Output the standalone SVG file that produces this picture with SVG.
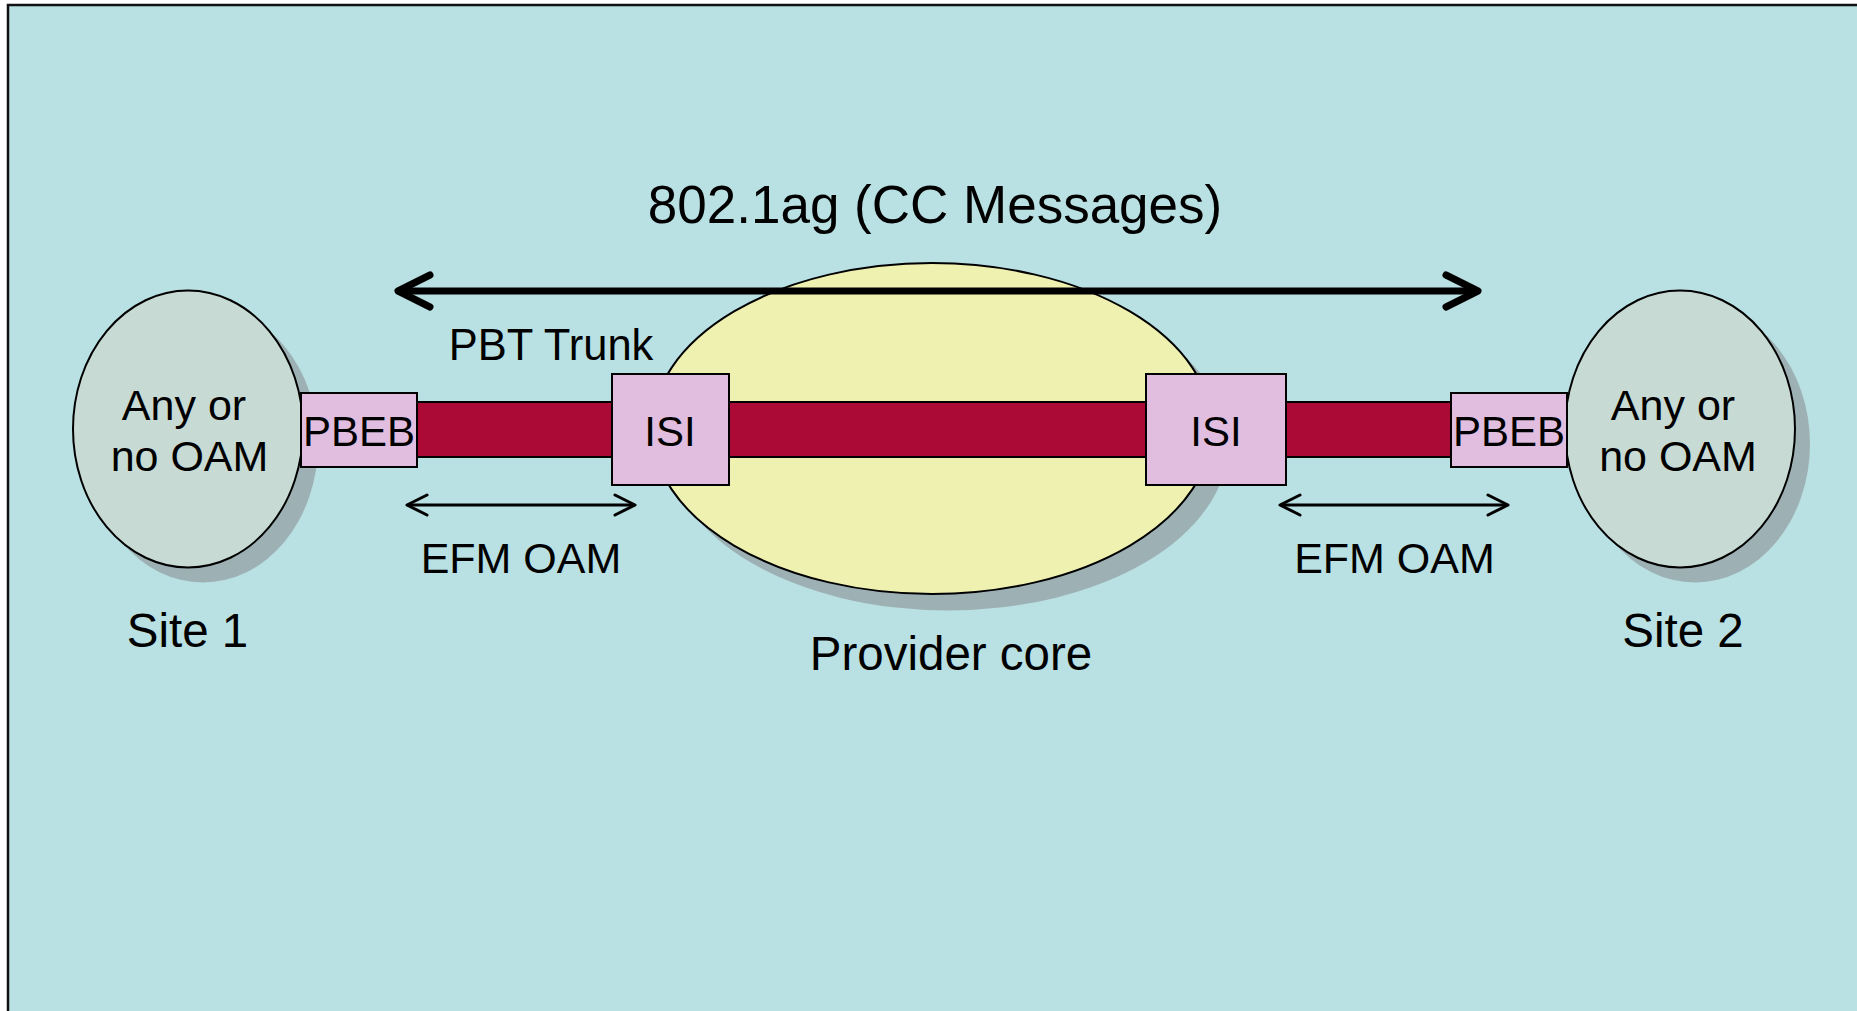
<svg xmlns="http://www.w3.org/2000/svg" width="1857" height="1011" viewBox="0 0 1857 1011">
  <style>
    .lbl { font-family: "Liberation Sans", Arial, sans-serif; fill: #000; text-anchor: middle; }
    .box { fill: #e1bddf; stroke: #000; stroke-width: 2; }
    .site { fill: #c7dad4; stroke: #000; stroke-width: 2; }
    .core { fill: #eff1b0; stroke: #000; stroke-width: 2; }
    .shadow { fill: #9db1b4; }
    .trunk { fill: #ab0a36; stroke: #000; stroke-width: 2; }
    .cc { fill: none; stroke: #000; stroke-width: 7; stroke-linecap: round; stroke-linejoin: round; }
    .efm { fill: none; stroke: #000; stroke-width: 3; stroke-linecap: round; stroke-linejoin: round; }
  </style>

  <!-- page and frame -->
  <rect x="0" y="0" width="1857" height="1011" fill="#ffffff"/>
  <rect x="8" y="5" width="1880" height="1030" fill="#b9e0e3" stroke="#111" stroke-width="2.5"/>

  <!-- provider core -->
  <g id="provider-core">
    <ellipse class="shadow" cx="948" cy="445" rx="280" ry="165.5"/>
    <ellipse class="core" cx="932" cy="428.5" rx="280" ry="165.5"/>
    <text class="lbl" x="951" y="670" font-size="47.5">Provider core</text>
  </g>

  <!-- site 1 -->
  <g id="site-1">
    <ellipse class="shadow" cx="203" cy="444" rx="115" ry="138.5"/>
    <ellipse class="site" cx="188" cy="429" rx="115" ry="138.5"/>
    <text class="lbl" x="184" y="420" font-size="43">Any or</text>
    <text class="lbl" x="189.5" y="470.5" font-size="43">no OAM</text>
    <text class="lbl" x="187.5" y="646.5" font-size="47.5">Site 1</text>
  </g>

  <!-- site 2 -->
  <g id="site-2">
    <ellipse class="shadow" cx="1695" cy="444" rx="115" ry="138.5"/>
    <ellipse class="site" cx="1680" cy="429" rx="115" ry="138.5"/>
    <text class="lbl" x="1673" y="420" font-size="43">Any or</text>
    <text class="lbl" x="1678" y="470.5" font-size="43">no OAM</text>
    <text class="lbl" x="1683" y="646.5" font-size="47.5">Site 2</text>
  </g>

  <!-- connectors -->
  <g id="connectors">
    <!-- PBT trunk between the two PBEBs -->
    <rect class="trunk" x="417" y="402" width="1034" height="55"/>
    <!-- 802.1ag CC span -->
    <line class="cc" x1="399" y1="291" x2="1476" y2="291"/>
    <path class="cc" d="M430,275 L398,291 L430,307"/>
    <path class="cc" d="M1446,275 L1478,291 L1446,307"/>
    <!-- EFM OAM spans -->
    <line class="efm" x1="408" y1="505" x2="634" y2="505"/>
    <path class="efm" d="M427,495 L407,505 L427,515"/>
    <path class="efm" d="M615,495 L635,505 L615,515"/>
    <line class="efm" x1="1281" y1="505" x2="1507" y2="505"/>
    <path class="efm" d="M1300,495 L1280,505 L1300,515"/>
    <path class="efm" d="M1488,495 L1508,505 L1488,515"/>
  </g>

  <!-- edge bridges -->
  <g id="pbeb-1">
    <rect class="box" x="301" y="393" width="116" height="74"/>
    <text class="lbl" x="359" y="445.5" font-size="42">PBEB</text>
  </g>
  <g id="pbeb-2">
    <rect class="box" x="1451" y="393" width="116" height="74"/>
    <text class="lbl" x="1509" y="445.5" font-size="42">PBEB</text>
  </g>

  <!-- interfaces into the core -->
  <g id="isi-1">
    <rect class="box" x="612" y="374" width="117" height="111"/>
    <text class="lbl" x="670" y="445.5" font-size="42">ISI</text>
  </g>
  <g id="isi-2">
    <rect class="box" x="1146" y="374" width="140" height="111"/>
    <text class="lbl" x="1216" y="445.5" font-size="42">ISI</text>
  </g>

  <!-- span labels -->
  <g id="labels">
    <text class="lbl" x="935" y="223" font-size="53">802.1ag (CC Messages)</text>
    <text class="lbl" x="551" y="360" font-size="43.5">PBT Trunk</text>
    <text class="lbl" x="521" y="572.5" font-size="43">EFM OAM</text>
    <text class="lbl" x="1394.5" y="572.5" font-size="43">EFM OAM</text>
  </g>
</svg>
